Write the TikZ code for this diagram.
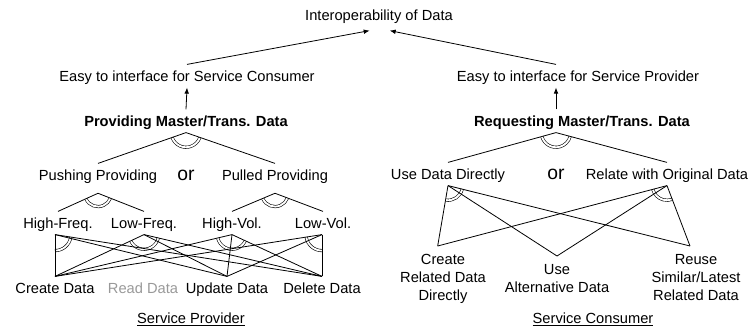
\documentclass[tikz,border=0pt]{standalone}
\usepackage{fontspec}
\setmainfont{Liberation Sans}
\usetikzlibrary{arrows.meta}
\newcommand{\andarc}[4][11pt]{
  % double arc across the branches of an AND node
  \draw[andline] (#2) ++(#3:#1) arc[start angle=#3, end angle=#4, radius=#1];
}

\begin{document}
\begin{tikzpicture}[x=0.75pt, y=-0.75pt,
  goal/.style={font=\fontsize{11}{13.5}\selectfont, text height=8pt, text depth=0pt, inner sep=4.5pt},
  goalb/.style={goal, font=\fontsize{11}{13.5}\selectfont\bfseries},
  multi/.style={font=\fontsize{11}{13.5}\selectfont, align=center, anchor=north, inner sep=6pt},
  orword/.style={font=\fontsize{14.5}{16}\selectfont, anchor=base, inner sep=0pt},
  link/.style={line width=0.6pt},
  up/.style={link, -{Latex[length=4.5pt, width=3.5pt]}},
  andline/.style={double, double distance=1.4pt, line width=0.45pt}]
	\useasboundingbox (0,0) rectangle (749,328);
	
	% goals
	\node[goal] (interop) at (379,15) {Interoperability of Data};
	\node[goal] (easyC) at (187,76) {Easy to interface for Service Consumer};
	\node[goal] (easyP) at (578,76) {Easy to interface for Service Provider};
	\node[goalb] (provMT) at (186,121) {Providing Master/Trans. Data};
	\node[goalb] (reqMT) at (582,121) {Requesting Master/Trans. Data};
	\coordinate (rax) at (556,0);
	
	% provider side
	\node[goal] (push) at (98,175) {Pushing Providing};
	\node[orword] (orL) at (186,180) {or};
	\node[goal] (pull) at (275,175) {Pulled Providing};
	\node[goal] (hf) at (58,223) {High-Freq.};
	\node[goal] (lf) at (144,223) {Low-Freq.};
	\node[goal] (hv) at (232,223) {High-Vol.};
	\node[goal] (lv) at (323,223) {Low-Vol.};
	\node[goal] (crD) at (55,288) {Create Data};
	\node[goal, text=black!40] (rdD) at (143,288) {Read Data};
	\node[goal] (upD) at (227,288) {Update Data};
	\node[goal] (dlD) at (322,288) {Delete Data};
	\node[goal] (spLbl) at (191,318) {\underline{Service Provider}};
	
	% consumer side
	\node[goal] (useD) at (448,174) {Use Data Directly};
	\node[orword] (orR) at (556,179) {or};
	\node[goal] (relO) at (667,174) {Relate with Original Data};
	\node[multi] (crR) at (443,246) {Create\\Related Data\\Directly};
	\node[multi] (alt) at (557,256) {Use\\Alternative Data};
	\node[multi] (reu) at (696,246) {Reuse\\Similar/Latest\\Related Data};
	\node[goal] (scLbl) at (593,318) {\underline{Service Consumer}};
	
	\coordinate (reqTip) at (reqMT.south -| rax);
	\coordinate (pushTip) at ([yshift=-5pt]push.south);
	\coordinate (pullTip) at ([yshift=-5pt]pull.south);
	\coordinate (hfTop) at (hf.south -| crD.north);
	\coordinate (lvTop) at (lv.south -| dlD.north);
	\coordinate (crTop) at ([xshift=-4pt]crR.north);
	\coordinate (reuTop) at ([xshift=-4.5pt]reu.north);
	
	\draw[up] (provMT.north) -- (easyC.south);
	\draw[up] (reqMT.north -| rax) -- (easyP.south -| rax);
	\draw[up] (easyC.north) -- ([xshift=-7pt, yshift=-3pt]interop.south);
	\draw[up] (easyP.north -| rax) -- ([xshift=8pt, yshift=-3pt]interop.south);
	
	\andarc{provMT.south}{-160}{-20}
	\draw[link] (push.north) -- (provMT.south) -- (pull.north);
	\andarc[10pt]{pushTip}{-155}{-23}
	\draw[link] (hf.north) -- (pushTip) -- (lf.north);
	\andarc[10pt]{pullTip}{-156}{-21}
	\draw[link] (hv.north) -- (pullTip) -- (lv.north);
	
	\andarc[12pt]{hfTop}{-90}{-9}
	\andarc{lf.south}{-154}{-13}
	\andarc{hv.south}{-166}{-25}
	\andarc[12pt]{lvTop}{-171}{-90}
	\foreach \t in {hfTop, lf.south, hv.south, lvTop}
	  \foreach \b in {crD, upD, dlD}
	    \draw[link] (\t) -- (\b.north);
	
	\andarc{reqTip}{-164}{-15}
	\draw[link] (useD.north) -- (reqTip) -- (relO.north);
	\andarc{useD.south}{-99}{-14}
	\andarc{relO.south}{-165}{-69}
	\foreach \t in {useD.south, relO.south}
	  \foreach \b in {crTop, alt.north, reuTop}
	    \draw[link] (\t) -- (\b);
\end{tikzpicture}
\end{document}
